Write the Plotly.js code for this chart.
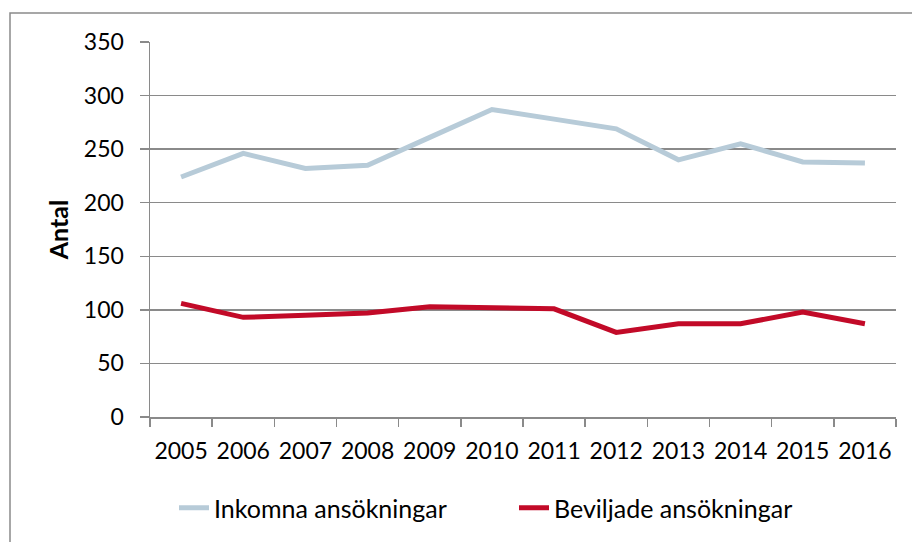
<!DOCTYPE html>
<html>
<head>
<meta charset="utf-8">
<script src="https://cdn.plot.ly/plotly-3.0.1.min.js"></script>
<style>html,body{margin:0;padding:0;background:#fff;}#chart{width:912px;height:542px;}</style>
</head>
<body>
<div id="chart"></div>
<script>
const years = ['2005','2006','2007','2008','2009','2010','2011','2012','2013','2014','2015','2016'];
const inkomna = [224, 246, 232, 235, 261, 287, 278, 269, 240, 255, 238, 237];
const beviljade = [106, 93, 95, 97, 103, 102, 101, 79, 87, 87, 98, 87];
const seriesNames = ['Inkomna ansökningar', 'Beviljade ansökningar'];
const yTitle = 'Antal';

const FONT = 'Lato, "Open Sans", "Liberation Sans", sans-serif';
const FS = 23;
const traces = [
  {x: years, y: inkomna, type: 'scatter', mode: 'lines', name: seriesNames[0],
   line: {color: '#b7cbd8', width: 5}},
  {x: years, y: beviljade, type: 'scatter', mode: 'lines', name: seriesNames[1],
   line: {color: '#c20a28', width: 5}}
];
const L = 150, R = 16, T = 42, B = 124, W = 912, H = 542;
const pw = W - L - R, ph = H - T - B;
const layout = {
  width: W, height: H,
  margin: {l: L, r: R, t: T, b: B, pad: 0},
  paper_bgcolor: '#ffffff', plot_bgcolor: '#ffffff',
  font: {family: FONT, size: FS, color: '#000000'},
  showlegend: true,
  legend: {orientation: 'h', x: (174 - L) / pw, xanchor: 'left', y: (418 - 508) / ph, yanchor: 'middle',
           font: {family: FONT, size: 25, color: '#000'}, itemwidth: 30, traceorder: 'normal',
           entrywidth: 295, entrywidthmode: 'pixels'},
  xaxis: {type: 'category', range: [-0.5, years.length - 0.5], tickson: 'boundaries', ticks: 'outside',
          ticklen: 8, tickwidth: 1.5, tickangle: 0,
          tickcolor: '#8a8a8a', showline: true, linecolor: '#8a8a8a', linewidth: 1.5,
          showgrid: false, zeroline: false, tickfont: {family: FONT, size: FS}, ticklabelstandoff: 13},
  yaxis: {range: [0, 350], dtick: 50, tick0: 0, ticks: 'outside', ticklen: 9, tickwidth: 1.5,
          tickcolor: '#8a8a8a', showline: true, linecolor: '#8a8a8a', linewidth: 1.5,
          showgrid: true, gridcolor: '#8a8a8a', gridwidth: 1.5, zeroline: false,
          tickfont: {family: FONT, size: FS}, ticklabelstandoff: 11,
          title: {text: '<b>' + yTitle + '</b>', font: {family: FONT, size: 25}, standoff: 8}},
  shapes: [{type: 'rect', xref: 'paper', yref: 'paper',
            x0: (10 - L) / pw, x1: (920 - L) / pw, y0: (418 - 560) / ph, y1: (418 - 13) / ph,
            line: {color: '#8a8a8a', width: 1.5}, fillcolor: 'rgba(0,0,0,0)', layer: 'below'}]
};
Plotly.newPlot('chart', traces, layout, {displayModeBar: false, staticPlot: true});
</script>
</body>
</html>
